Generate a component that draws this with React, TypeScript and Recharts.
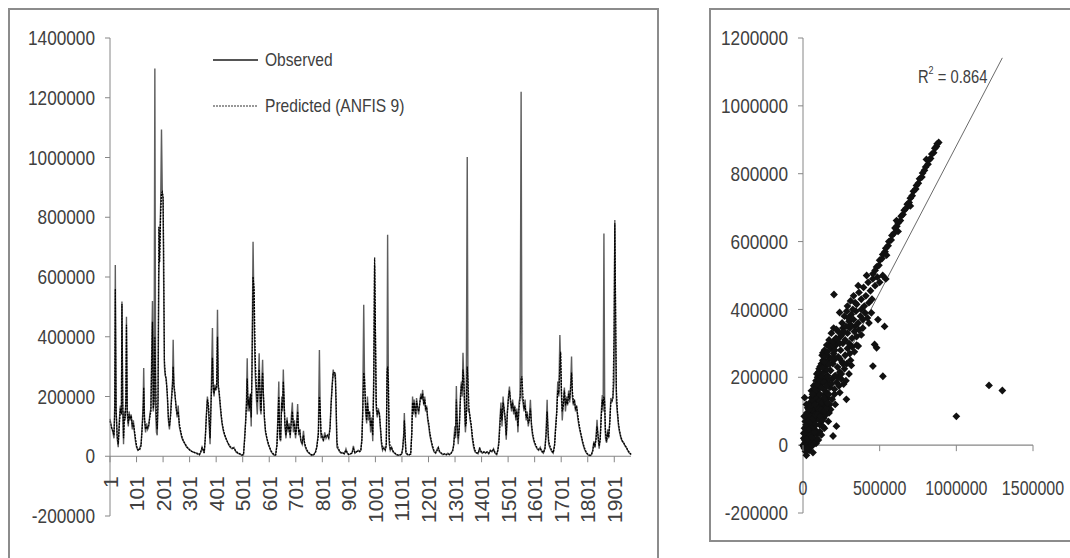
import React from 'react';
import {
  LineChart,
  Line,
  XAxis,
  YAxis,
  ReferenceLine,
  Legend,
  ScatterChart,
  Scatter,
  ReferenceDot,
} from 'recharts';

// ---------------- data ----------------
const leftYTicks = [-200000, 0, 200000, 400000, 600000, 800000, 1000000, 1200000, 1400000];
const leftXTicks = [1, 101, 201, 301, 401, 501, 601, 701, 801, 901, 1001, 1101, 1201, 1301, 1401, 1501, 1601, 1701, 1801, 1901];
const rightYTicks = [-200000, 0, 200000, 400000, 600000, 800000, 1000000, 1200000];
const rightXTicks = [0, 500000, 1000000, 1500000];
const observedName = 'Observed';
const predictedName = 'Predicted (ANFIS 9)';
const lastIndex = 1964;

// [index, observed, predicted]
const flowRecords: [number, number, number][] = [
  [1, 125000, 118000], [6, 100000, 98000], [12, 80000, 85000], [16, 60000, 70000], [19, 180000, 150000],
  [21, 640000, 560000], [24, 150000, 160000], [28, 60000, 70000], [32, 30000, 40000], [36, 120000, 100000],
  [40, 170000, 160000], [44, 150000, 140000], [46, 518000, 510000], [49, 160000, 180000], [52, 40000, 60000],
  [55, 150000, 130000], [58, 120000, 130000], [61, 200000, 190000], [63, 467000, 440000], [66, 140000, 150000],
  [70, 100000, 110000], [73, 150000, 140000], [77, 120000, 125000], [81, 140000, 135000], [85, 90000, 100000],
  [89, 120000, 110000], [93, 80000, 85000], [97, 50000, 60000], [101, 30000, 35000], [106, 20000, 22000],
  [112, 25000, 20000], [118, 40000, 35000],
  [122, 100000, 90000], [126, 180000, 150000], [128, 295000, 230000], [131, 120000, 130000], [135, 80000, 90000],
  [139, 110000, 100000], [143, 90000, 95000], [147, 100000, 105000], [151, 140000, 130000], [155, 160000, 150000],
  [158, 340000, 300000], [161, 520000, 450000], [164, 150000, 160000], [167, 200000, 180000], [170, 1298000, 400000],
  [173, 150000, 250000], [176, 80000, 120000], [179, 70000, 90000], [182, 200000, 180000], [185, 600000, 768000],
  [188, 700000, 650000], [192, 850000, 820000], [195, 1094000, 880000], [198, 880000, 885000], [201, 860000, 870000],
  [203, 600000, 700000], [206, 300000, 320000], [209, 270000, 280000], [213, 260000, 250000], [217, 200000, 210000],
  [221, 120000, 130000], [225, 90000, 100000], [229, 140000, 130000], [233, 200000, 190000], [237, 260000, 240000],
  [239, 390000, 300000], [242, 230000, 240000], [246, 200000, 210000], [250, 170000, 160000], [254, 130000, 140000],
  [258, 170000, 150000], [262, 100000, 110000], [267, 80000, 85000], [272, 60000, 65000], [278, 50000, 50000],
  [284, 40000, 42000], [290, 30000, 32000], [297, 25000, 25000], [304, 20000, 18000], [312, 15000, 15000],
  [320, 12000, 12000], [330, 10000, 8000], [338, 5000, 5000], [344, 15000, 18000], [348, 30000, 28000],
  [352, 20000, 22000], [356, 10000, 12000],
  [360, 60000, 60000], [364, 140000, 130000], [368, 200000, 190000], [372, 160000, 170000], [375, 100000, 120000],
  [378, 40000, 60000], [382, 200000, 180000], [387, 429000, 330000], [390, 220000, 230000], [393, 200000, 210000],
  [396, 240000, 230000], [400, 220000, 225000], [403, 240000, 230000], [406, 490000, 400000], [409, 230000, 240000],
  [412, 210000, 220000], [415, 180000, 190000], [419, 140000, 150000], [423, 110000, 115000], [428, 85000, 90000],
  [433, 70000, 72000], [440, 55000, 55000], [447, 40000, 42000], [454, 30000, 32000], [461, 25000, 28000],
  [468, 30000, 26000], [475, 15000, 18000], [482, 10000, 12000], [490, 8000, 8000], [498, 3000, 4000],
  [504, 5000, 6000],
  [508, 60000, 50000], [512, 120000, 110000], [515, 180000, 170000], [518, 328000, 260000], [521, 150000, 170000],
  [524, 200000, 190000], [527, 150000, 160000], [530, 200000, 210000], [533, 100000, 130000], [536, 300000, 280000],
  [540, 718000, 601000], [544, 450000, 560000], [548, 280000, 330000], [552, 200000, 240000], [556, 140000, 180000],
  [560, 250000, 230000], [563, 345000, 290000], [567, 160000, 200000], [570, 140000, 150000], [573, 250000, 220000],
  [576, 323000, 280000], [579, 200000, 210000], [583, 120000, 130000], [587, 80000, 85000], [592, 60000, 60000],
  [597, 40000, 45000], [602, 30000, 30000], [608, 15000, 18000], [614, 8000, 10000], [620, 3000, 5000],
  [625, 5000, 4000],
  [630, 40000, 35000], [634, 150000, 120000], [637, 250000, 200000], [640, 60000, 80000], [644, 50000, 55000],
  [648, 200000, 180000], [651, 150000, 160000], [654, 290000, 250000], [657, 180000, 190000], [660, 100000, 110000],
  [664, 60000, 70000], [668, 130000, 120000], [672, 80000, 90000], [676, 110000, 100000], [680, 60000, 70000],
  [684, 130000, 110000], [688, 180000, 150000], [692, 80000, 100000], [696, 120000, 110000], [700, 60000, 70000],
  [704, 100000, 95000], [708, 175000, 150000], [712, 70000, 80000], [716, 90000, 85000], [720, 50000, 55000],
  [725, 40000, 45000], [730, 85000, 70000], [734, 40000, 45000], [739, 25000, 30000], [745, 15000, 18000],
  [752, 10000, 10000], [760, 3000, 5000], [768, 5000, 4000], [775, 15000, 12000], [780, 30000, 30000],
  [786, 80000, 70000], [790, 356000, 200000], [793, 150000, 160000], [796, 60000, 80000], [800, 70000, 65000],
  [805, 50000, 55000], [810, 80000, 70000], [815, 60000, 65000], [820, 70000, 70000], [825, 60000, 62000],
  [830, 100000, 90000], [834, 180000, 170000], [838, 240000, 230000], [842, 290000, 280000], [846, 270000, 280000],
  [850, 280000, 270000], [853, 150000, 180000], [856, 30000, 50000], [860, 25000, 28000], [866, 15000, 18000],
  [872, 10000, 12000], [878, 12000, 10000], [884, 8000, 9000], [890, 25000, 20000], [895, 10000, 12000],
  [900, 5000, 6000], [907, 8000, 8000], [913, 12000, 10000], [918, 35000, 25000], [924, 10000, 12000],
  [930, 15000, 15000], [936, 20000, 18000], [942, 15000, 16000], [946, 20000, 20000],
  [950, 60000, 50000], [953, 150000, 130000], [957, 507000, 280000], [960, 250000, 260000], [964, 150000, 170000],
  [968, 110000, 120000], [971, 200000, 180000], [975, 120000, 140000], [979, 150000, 145000], [983, 80000, 100000],
  [987, 130000, 120000], [991, 50000, 70000], [995, 300000, 250000], [998, 640000, 665000], [1001, 400000, 420000],
  [1004, 160000, 180000], [1008, 130000, 140000], [1012, 160000, 150000], [1016, 140000, 145000], [1020, 90000, 100000],
  [1024, 40000, 50000], [1028, 20000, 25000], [1033, 30000, 28000], [1038, 20000, 22000], [1042, 40000, 35000],
  [1045, 300000, 280000], [1047, 741000, 300000], [1050, 200000, 250000], [1053, 40000, 60000], [1057, 20000, 25000],
  [1062, 30000, 28000], [1067, 15000, 18000], [1073, 10000, 12000], [1080, 5000, 6000], [1088, 3000, 4000],
  [1095, 5000, 5000], [1100, 8000, 7000], [1104, 30000, 25000], [1108, 80000, 70000], [1110, 145000, 120000],
  [1113, 60000, 70000], [1116, 10000, 15000], [1122, 5000, 6000], [1128, 5000, 5000], [1134, 8000, 7000],
  [1138, 80000, 70000], [1141, 200000, 180000], [1144, 140000, 150000], [1147, 190000, 180000], [1150, 150000, 160000],
  [1153, 130000, 140000], [1156, 195000, 185000], [1160, 160000, 165000], [1164, 140000, 150000], [1168, 180000, 175000],
  [1172, 210000, 200000], [1176, 190000, 195000], [1179, 222000, 210000], [1183, 170000, 175000], [1187, 200000, 190000],
  [1190, 150000, 160000], [1194, 170000, 165000], [1198, 120000, 130000], [1202, 100000, 110000], [1206, 70000, 80000],
  [1211, 50000, 55000], [1216, 30000, 35000], [1222, 15000, 18000], [1228, 10000, 12000], [1234, 25000, 20000],
  [1238, 30000, 28000], [1242, 15000, 18000], [1248, 10000, 12000], [1255, 5000, 6000], [1262, 8000, 8000],
  [1268, 5000, 5000], [1274, 10000, 9000], [1280, 5000, 6000], [1286, 10000, 10000], [1292, 20000, 18000],
  [1296, 40000, 35000], [1300, 100000, 80000], [1303, 60000, 70000], [1306, 235000, 190000], [1309, 100000, 120000],
  [1313, 40000, 60000], [1317, 100000, 90000], [1321, 200000, 180000], [1325, 250000, 240000], [1328, 200000, 220000],
  [1331, 346000, 290000], [1334, 250000, 260000], [1337, 160000, 180000], [1340, 80000, 100000], [1343, 120000, 110000],
  [1347, 1002000, 300000], [1350, 150000, 250000], [1354, 160000, 150000], [1358, 120000, 130000], [1362, 100000, 105000],
  [1366, 60000, 70000], [1371, 30000, 40000], [1376, 15000, 20000], [1382, 10000, 12000], [1388, 8000, 10000],
  [1394, 30000, 25000], [1398, 15000, 18000], [1404, 10000, 12000], [1410, 15000, 14000], [1416, 10000, 12000],
  [1422, 15000, 14000], [1428, 8000, 10000], [1434, 20000, 18000], [1440, 15000, 16000], [1446, 25000, 22000],
  [1452, 10000, 12000], [1458, 5000, 8000],
  [1462, 20000, 18000], [1466, 50000, 40000], [1470, 120000, 100000], [1474, 180000, 160000], [1478, 100000, 120000],
  [1482, 200000, 180000], [1486, 150000, 160000], [1490, 120000, 130000], [1494, 55000, 70000], [1498, 150000, 140000],
  [1502, 200000, 190000], [1506, 233000, 220000], [1510, 180000, 190000], [1514, 150000, 160000], [1518, 190000, 180000],
  [1522, 140000, 150000], [1526, 170000, 165000], [1530, 120000, 130000], [1534, 160000, 150000], [1538, 80000, 100000],
  [1542, 180000, 160000], [1546, 200000, 190000], [1550, 1220000, 260000], [1553, 200000, 267000], [1557, 180000, 200000],
  [1561, 150000, 160000], [1565, 190000, 170000], [1569, 120000, 130000], [1573, 150000, 140000], [1577, 100000, 110000],
  [1581, 130000, 120000], [1585, 189000, 160000], [1589, 100000, 110000], [1593, 70000, 80000], [1598, 50000, 55000],
  [1604, 35000, 40000], [1610, 25000, 28000], [1616, 20000, 22000], [1622, 30000, 25000], [1628, 15000, 18000],
  [1634, 10000, 12000], [1640, 30000, 25000], [1644, 80000, 70000], [1648, 189000, 150000], [1651, 80000, 100000],
  [1654, 40000, 50000], [1660, 25000, 30000], [1666, 15000, 18000], [1671, 10000, 12000], [1676, 40000, 35000],
  [1680, 100000, 90000], [1684, 150000, 140000], [1688, 250000, 220000], [1692, 200000, 210000], [1696, 406000, 300000],
  [1699, 300000, 350000], [1702, 200000, 220000], [1705, 120000, 150000], [1709, 180000, 170000], [1713, 230000, 220000],
  [1717, 150000, 170000], [1721, 200000, 190000], [1725, 170000, 175000], [1729, 220000, 210000], [1733, 180000, 190000],
  [1737, 250000, 230000], [1740, 334000, 280000], [1743, 200000, 220000], [1747, 170000, 180000], [1751, 190000, 185000],
  [1755, 150000, 160000], [1759, 170000, 165000], [1763, 130000, 140000], [1768, 100000, 110000], [1773, 80000, 85000],
  [1778, 60000, 65000], [1783, 40000, 45000], [1788, 25000, 30000], [1793, 15000, 18000], [1798, 8000, 10000],
  [1804, 3000, 5000], [1810, 2000, 3000], [1815, 5000, 6000], [1820, 20000, 18000], [1824, 50000, 45000],
  [1828, 30000, 35000], [1832, 60000, 55000], [1836, 122000, 100000], [1840, 60000, 70000], [1844, 25000, 35000],
  [1848, 60000, 55000], [1852, 150000, 130000], [1856, 205000, 190000], [1859, 150000, 170000], [1862, 746000, 200000],
  [1865, 150000, 180000], [1868, 60000, 80000], [1872, 45000, 50000], [1876, 90000, 80000], [1880, 60000, 65000],
  [1884, 120000, 110000], [1888, 195000, 180000], [1892, 180000, 185000], [1896, 200000, 195000], [1900, 250000, 400000],
  [1903, 791000, 780000], [1906, 400000, 500000], [1909, 180000, 220000], [1913, 140000, 150000], [1917, 100000, 110000],
  [1921, 80000, 85000], [1926, 60000, 65000], [1931, 50000, 52000], [1936, 45000, 45000], [1941, 35000, 38000],
  [1946, 30000, 30000], [1951, 20000, 22000], [1956, 12000, 15000], [1961, 8000, 10000], [1964, 5000, 6000],
];

// [observed, predicted]
const scatterPairs: [number, number][] = [
  [22000, -30000], [65000, -22000], [10000, -10000], [40000, -15000], [5000, -5000], [30000, 5000], [85000, 5000],
  [50000, -5000], [0, 0], [15000, 8000], [70000, 10000], [100000, 15000], [16000, -18000], [35000, -8000], [60000, -2000],
  [5000, 20000], [20000, 30000], [35000, 25000], [50000, 40000], [65000, 30000], [80000, 45000], [95000, 35000],
  [110000, 40000], [25000, 45000], [45000, 15000], [60000, 50000], [90000, 20000], [120000, 30000], [196000, 27000],
  [218000, 56000], [140000, 50000], [10000, 50000], [30000, 55000], [12000, 15000], [28000, 18000], [42000, 32000],
  [58000, 22000], [75000, 38000], [18000, 40000], [38000, 48000], [5000, 35000],
  [15000, 70000], [30000, 80000], [45000, 65000], [60000, 90000], [75000, 70000], [90000, 85000], [105000, 75000],
  [120000, 95000], [135000, 80000], [150000, 90000], [165000, 70000], [40000, 95000], [55000, 60000], [25000, 95000],
  [80000, 100000], [110000, 60000], [170000, 95000], [130000, 55000], [100000, 100000], [52000, 62000], [68000, 55000],
  [85000, 60000], [20000, 60000], [35000, 72000], [50000, 85000], [65000, 78000], [82000, 88000], [97000, 92000],
  [112000, 85000], [125000, 72000], [8000, 85000],
  [11000, 140000], [30000, 110000], [45000, 125000], [55000, 140000], [70000, 115000], [85000, 130000], [100000, 145000],
  [115000, 120000], [130000, 135000], [145000, 115000], [160000, 140000], [175000, 120000], [190000, 135000],
  [205000, 150000], [60000, 105000], [95000, 110000], [140000, 150000], [180000, 105000], [283000, 135000],
  [75000, 145000], [120000, 105000], [210000, 120000], [140000, 100000], [155000, 110000], [22000, 120000],
  [38000, 105000], [52000, 118000], [65000, 132000], [80000, 120000], [92000, 140000], [108000, 130000],
  [125000, 125000], [138000, 140000], [152000, 130000], [168000, 150000], [160000, 125000],
  [55000, 160000], [70000, 175000], [85000, 190000], [100000, 165000], [115000, 180000], [130000, 195000],
  [145000, 160000], [160000, 185000], [175000, 170000], [190000, 195000], [205000, 165000], [220000, 185000],
  [235000, 175000], [250000, 195000], [265000, 180000], [280000, 190000], [80000, 155000], [110000, 150000],
  [150000, 200000], [200000, 200000], [240000, 155000], [95000, 200000], [62000, 150000], [78000, 165000],
  [92000, 178000], [108000, 192000], [122000, 170000], [138000, 185000], [155000, 175000], [170000, 195000],
  [185000, 180000], [230000, 200000],
  [90000, 210000], [105000, 225000], [120000, 240000], [135000, 215000], [150000, 235000], [165000, 250000],
  [180000, 220000], [195000, 240000], [210000, 205000], [225000, 230000], [240000, 215000], [255000, 245000],
  [270000, 225000], [285000, 240000], [300000, 210000], [315000, 235000], [130000, 250000], [200000, 250000],
  [160000, 205000], [250000, 210000], [310000, 250000], [115000, 205000], [100000, 215000], [112000, 232000],
  [128000, 228000], [142000, 245000], [158000, 222000], [172000, 238000], [260000, 240000],
  [125000, 265000], [140000, 280000], [155000, 295000], [170000, 260000], [185000, 285000], [200000, 270000],
  [215000, 295000], [230000, 260000], [245000, 280000], [260000, 300000], [275000, 265000], [290000, 285000],
  [305000, 270000], [320000, 290000], [335000, 275000], [350000, 295000], [130000, 272000], [180000, 300000],
  [240000, 255000], [300000, 300000], [360000, 292000], [210000, 255000], [188000, 255000], [145000, 262000],
  [160000, 275000], [175000, 290000], [192000, 295000], [208000, 280000],
  [170000, 310000], [185000, 330000], [200000, 345000], [215000, 315000], [230000, 335000], [245000, 320000],
  [260000, 345000], [275000, 310000], [290000, 330000], [305000, 345000], [320000, 315000], [335000, 335000],
  [350000, 320000], [365000, 340000], [380000, 325000], [218000, 341000], [340000, 350000], [390000, 345000],
  [195000, 305000], [222000, 310000], [238000, 300000], [252000, 325000], [265000, 335000],
  [239000, 391000], [255000, 360000], [270000, 380000], [285000, 395000], [300000, 365000], [315000, 385000],
  [330000, 370000], [345000, 395000], [360000, 360000], [375000, 380000], [390000, 370000], [405000, 390000],
  [420000, 375000], [446000, 390000], [310000, 355000], [380000, 400000], [430000, 360000], [280000, 350000],
  [295000, 375000], [325000, 400000],
  [467000, 297000], [480000, 287000], [456000, 233000], [521000, 203000], [489000, 370000], [532000, 350000],
  [202000, 444000], [290000, 410000], [310000, 425000], [330000, 440000], [350000, 415000], [365000, 450000],
  [380000, 430000], [395000, 465000], [410000, 440000], [425000, 480000], [440000, 455000], [455000, 490000],
  [470000, 470000], [485000, 495000], [500000, 480000], [520000, 500000], [540000, 490000], [400000, 410000],
  [430000, 420000], [360000, 470000], [415000, 500000], [450000, 430000], [340000, 420000],
  [456000, 505000], [470000, 515000], [480000, 525000], [495000, 530000], [500000, 545000], [515000, 550000],
  [520000, 562000], [535000, 570000], [540000, 580000], [555000, 588000], [560000, 600000], [575000, 605000],
  [580000, 618000], [595000, 625000], [600000, 640000], [612000, 645000], [620000, 655000], [635000, 662000],
  [640000, 675000], [652000, 680000], [660000, 692000], [672000, 698000], [680000, 710000], [692000, 715000],
  [700000, 728000], [712000, 735000], [720000, 748000], [735000, 755000], [740000, 765000], [752000, 772000],
  [760000, 785000], [775000, 790000], [780000, 802000], [792000, 810000], [800000, 820000], [815000, 828000],
  [820000, 840000], [832000, 845000], [840000, 858000], [852000, 862000], [860000, 875000], [870000, 880000],
  [875000, 888000], [885000, 892000], [620000, 630000], [700000, 705000], [545000, 560000], [610000, 662000],
  [805000, 842000],
  [1000000, 85000], [1213000, 176000], [1300000, 161000],
];

const trendSlope = 0.865;
const trendIntercept = 17000;
const trendMaxX = 1300000;
const rSquaredText = '0.864';
const r2LabelAt = { x: 976000, y: 1087000 };

// ---------------- styles ----------------
const FONT = "'Liberation Sans', Arial, sans-serif";
const NARROW = 0.82;
const TEXT = '#404040';
const AXIS = '#868686';
const BORDER = '2px solid #8c8c8c';

const L_W = 647;
const L_H = 560;
const L_MARGIN = { top: 28, right: 26, bottom: 24, left: 0 };
const L_XAXIS_H = 30;
const L_PLOT_H = L_H - L_MARGIN.top - L_MARGIN.bottom - L_XAXIS_H;
const L_BAND = L_PLOT_H / (leftYTicks.length - 1);

const R_W = 370;
const R_H = 530;
const R_MARGIN = { top: 28, right: 48, bottom: 7, left: 0 };
const R_XAXIS_H = 20;
const R_PLOT_H = R_H - R_MARGIN.top - R_MARGIN.bottom - R_XAXIS_H;
const R_BAND = R_PLOT_H / (rightYTicks.length - 1);

const lineData = flowRecords.map(([idx, observed, predicted]) => ({ idx, observed, predicted }));
const scatterData = scatterPairs.map(([x, y]) => ({ x, y }));

const legendStyles: Record<string, { stroke: string; dash?: string; width: number }> = {
  [observedName]: { stroke: '#555', width: 2 },
  [predictedName]: { stroke: '#777', dash: '2 1', width: 1.5 },
};

const YTick = (props: any) => {
  const { x, y, payload } = props;
  return (
    <text
      transform={`translate(${x},${y}) scale(${NARROW},1)`}
      textAnchor="end"
      dominantBaseline="central"
      fontSize={21}
      fontFamily={FONT}
      fill={TEXT}
    >
      {payload.value}
    </text>
  );
};

const LeftXTick = (props: any) => {
  const { x, y, payload } = props;
  const zeroY = y - L_BAND;
  const ty = zeroY + 20;
  return (
    <g>
      <line x1={x} x2={x} y1={zeroY} y2={zeroY + 6} stroke={AXIS} />
      <text
        transform={`translate(${x},${ty}) rotate(-90)`}
        textAnchor="end"
        dominantBaseline="central"
        fontSize={21}
        fontFamily={FONT}
        fill={TEXT}
      >
        {payload.value}
      </text>
    </g>
  );
};

const RightXTick = (props: any) => {
  const { x, y, payload } = props;
  const zeroY = y - R_BAND;
  return (
    <g>
      <line x1={x} x2={x} y1={zeroY} y2={zeroY + 6} stroke={AXIS} />
      <text
        transform={`translate(${x},${zeroY + 43}) scale(0.8,1)`}
        textAnchor="middle"
        dominantBaseline="central"
        fontSize={20}
        fontFamily={FONT}
        fill={TEXT}
      >
        {payload.value}
      </text>
    </g>
  );
};

const renderLegend = (props: any) => {
  const items = props.payload || [];
  return (
    <div style={{ fontFamily: FONT, fontSize: 19, color: TEXT }}>
      {items.map((entry: any) => {
        const st = legendStyles[entry.value] || { stroke: '#555', width: 1 };
        return (
          <div key={entry.value} style={{ display: 'flex', alignItems: 'center', height: 46, whiteSpace: 'nowrap' }}>
            <svg width={52} height={10} style={{ display: 'block', flex: 'none' }}>
              <line x1={0} x2={45} y1={5} y2={5} stroke={st.stroke} strokeWidth={st.width} strokeDasharray={st.dash} />
            </svg>
            <span style={{ display: 'inline-block', transform: `scaleX(${NARROW})`, transformOrigin: 'left center' }}>
              {entry.value}
            </span>
          </div>
        );
      })}
    </div>
  );
};

const renderDiamond = (props: any) => {
  const { cx, cy } = props;
  if (cx == null || cy == null) return null;
  const s = 3.9;
  return <path d={`M${cx},${cy - s}L${cx + s},${cy}L${cx},${cy + s}L${cx - s},${cy}Z`} fill="#111" />;
};

const renderR2 = (props: any) => {
  const vb = props.viewBox || {};
  const x = vb.x + (vb.width || 0) / 2;
  const y = vb.y + (vb.height || 0) / 2;
  return (
    <text
      transform={`translate(${x},${y}) scale(${NARROW},1)`}
      textAnchor="middle"
      dominantBaseline="central"
      fontSize={18}
      fontFamily={FONT}
      fill={TEXT}
    >
      R<tspan dy={-7} fontSize={11}>2</tspan>
      <tspan dy={7}>{` = ${rSquaredText}`}</tspan>
    </text>
  );
};

export default function App() {
  return (
    <div style={{ position: 'absolute', left: 0, top: 0, width: 1070, height: 558, overflow: 'hidden', background: '#fff' }}>
      <div style={{ position: 'absolute', left: 8, top: 8, width: 651, height: 600, border: BORDER, boxSizing: 'border-box' }}>
        <LineChart width={L_W} height={L_H} data={lineData} margin={L_MARGIN}>
          <XAxis
            type="number"
            dataKey="idx"
            domain={[1, lastIndex]}
            ticks={leftXTicks}
            interval={0}
            axisLine={false}
            tickLine={false}
            tickSize={0}
            tickMargin={0}
            height={L_XAXIS_H}
            tick={(p: any) => <LeftXTick {...p} />}
          />
          <YAxis
            type="number"
            domain={[leftYTicks[0], leftYTicks[leftYTicks.length - 1]]}
            ticks={leftYTicks}
            interval={0}
            width={100}
            axisLine={{ stroke: AXIS }}
            tickLine={{ stroke: AXIS }}
            tickSize={5}
            tickMargin={10}
            tick={(p: any) => <YTick {...p} />}
          />
          <ReferenceLine y={0} stroke={AXIS} strokeWidth={1.2} />
          <Line
            type="linear"
            dataKey="observed"
            name={observedName}
            stroke="#5e5e5e"
            strokeWidth={1.4}
            dot={false}
            isAnimationActive={false}
          />
          <Line
            type="linear"
            dataKey="predicted"
            name={predictedName}
            stroke="#000"
            strokeWidth={1.3}
            strokeDasharray="2 1"
            dot={false}
            isAnimationActive={false}
          />
          <Legend
            layout="vertical"
            align="center"
            verticalAlign="middle"
            content={renderLegend}
            wrapperStyle={{ left: 203, top: 27, width: 260, height: 92 }}
          />
        </LineChart>
      </div>
      <div style={{ position: 'absolute', left: 709, top: 8, width: 400, height: 534, border: BORDER, boxSizing: 'border-box' }}>
        <ScatterChart width={R_W} height={R_H} margin={R_MARGIN}>
          <XAxis
            type="number"
            dataKey="x"
            domain={[rightXTicks[0], rightXTicks[rightXTicks.length - 1]]}
            ticks={rightXTicks}
            interval={0}
            axisLine={false}
            tickLine={false}
            tickSize={0}
            tickMargin={0}
            height={R_XAXIS_H}
            tick={(p: any) => <RightXTick {...p} />}
          />
          <YAxis
            type="number"
            dataKey="y"
            domain={[rightYTicks[0], rightYTicks[rightYTicks.length - 1]]}
            ticks={rightYTicks}
            interval={0}
            width={92}
            axisLine={{ stroke: AXIS }}
            tickLine={{ stroke: AXIS }}
            tickSize={5}
            tickMargin={10}
            tick={(p: any) => <YTick {...p} />}
          />
          <ReferenceLine y={0} stroke={AXIS} strokeWidth={1.2} />
          <Scatter data={scatterData} fill="#111" shape={renderDiamond} isAnimationActive={false} />
          <ReferenceLine
            segment={[
              { x: 0, y: trendIntercept },
              { x: trendMaxX, y: trendIntercept + trendSlope * trendMaxX },
            ]}
            stroke="#6a6a6a"
            strokeWidth={1}
          />
          <ReferenceDot x={r2LabelAt.x} y={r2LabelAt.y} r={0} fill="none" stroke="none" label={renderR2} />
        </ScatterChart>
      </div>
    </div>
  );
}
